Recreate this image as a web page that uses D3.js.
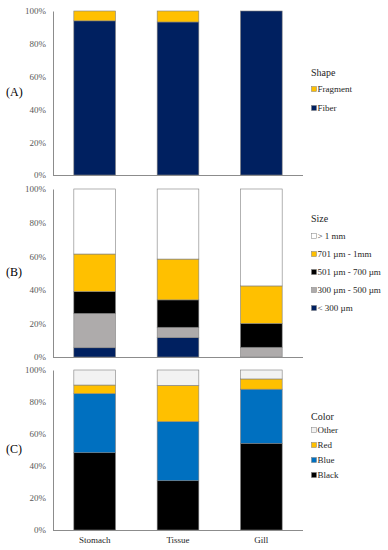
<!DOCTYPE html>
<html>
<head>
<meta charset="utf-8">
<script src="https://cdn.jsdelivr.net/npm/d3@7"></script>
<style>
  body { margin: 0; background: #fff; }
  text { font-family: "Liberation Serif", "Times New Roman", serif; }
</style>
</head>
<body>
<div id="my_dataviz"></div>
<script>
// data (percent of items)
var sites = ["Stomach", "Tissue", "Gill"];
var yTicks = [0, 20, 40, 60, 80, 100];

var shapeKeys = ["Fiber", "Fragment"];
var shapeColors = ["#002060", "#FFC000"];
var fiber = [94, 93.3, 100];
var fragment = [6, 6.7, 0];

var sizeKeys = ["< 300 µm", "300 µm - 500 µm", "501 µm - 700 µm", "701 µm - 1mm", "> 1 mm"];
var sizeColors = ["#002060", "#AEABAB", "#000000", "#FFC000", "#FFFFFF"];
var lt300 = [5.5, 11.5, 0];
var s300to500 = [20.5, 6.2, 5.8];
var s501to700 = [13, 16.3, 14.2];
var s701to1mm = [22.3, 24.3, 22.3];
var gt1mm = [38.7, 41.7, 57.7];

var colorKeys = ["Black", "Blue", "Red", "Other"];
var colorColors = ["#000000", "#0070C0", "#FFC000", "#F2F2F2"];
var black = [48.3, 30.8, 54.2];
var blue = [36.9, 36.9, 33.8];
var red = [5.4, 22.7, 6.4];
var other = [9.4, 9.6, 5.6];

var width = 388, height = 550;

var svg = d3.select("#my_dataviz")
  .append("svg")
    .attr("width", width)
    .attr("height", height);

var x = d3.scaleBand()
    .domain(sites)
    .range([53, 303])
    .paddingInner(0.5)
    .paddingOuter(0.25);

function buildRows(keys, series) {
  return sites.map(function(s, i) {
    var row = {site: s};
    keys.forEach(function(k, j) { row[k] = series[j][i]; });
    return row;
  });
}

function panel(opts) {
  var y = d3.scaleLinear().domain([0, 100]).range([opts.bottom, opts.top]);
  var g = svg.append("g");

  var stacked = d3.stack().keys(opts.keys)(buildRows(opts.keys, opts.series));

  g.selectAll("g.layer")
    .data(stacked)
    .enter()
    .append("g")
      .attr("class", "layer")
      .attr("fill", function(d, i) { return opts.colors[i]; })
    .selectAll("rect")
    .data(function(d) { return d.filter(function(v) { return v[1] - v[0] > 0; }); })
    .enter()
    .append("rect")
      .attr("x", function(d) { return x(d.data.site); })
      .attr("y", function(d) { return y(d[1]); })
      .attr("width", x.bandwidth())
      .attr("height", function(d) { return y(d[0]) - y(d[1]); })
      .attr("stroke", "#7f7f7f")
      .attr("stroke-width", 0.6);

  // y axis
  var yAxis = g.append("g")
    .attr("transform", "translate(53,0)")
    .call(d3.axisLeft(y).tickValues(yTicks).tickSize(0).tickPadding(7)
      .tickFormat(function(d) { return d + "%"; }));
  yAxis.select(".domain").attr("stroke", "#8c8c8c");
  yAxis.selectAll("text")
    .attr("font-family", "Liberation Serif")
    .attr("font-size", "9px")
    .attr("fill", "#595959");

  // x axis line
  var xAxis = g.append("g")
    .attr("transform", "translate(0," + opts.bottom + ")")
    .call(d3.axisBottom(x).tickSize(0).tickPadding(7)
      .tickFormat(opts.showLabels ? null : function() { return ""; }));
  xAxis.select(".domain").attr("stroke", "#8c8c8c").attr("d", "M53,0.5H303");
  xAxis.selectAll("text")
    .attr("font-family", "Liberation Serif")
    .attr("font-size", "9px")
    .attr("fill", "#262626");

  // panel label
  g.append("text")
    .attr("x", 6)
    .attr("y", (opts.top + opts.bottom) / 2 + 3)
    .attr("font-size", "12px")
    .attr("fill", "#000")
    .text(opts.label);

  // legend
  g.append("text")
    .attr("x", 311)
    .attr("y", opts.legendTop)
    .attr("font-size", "10px")
    .attr("fill", "#262626")
    .text(opts.title);

  var items = opts.keys.map(function(k, i) { return {key: k, color: opts.colors[i]}; }).reverse();
  var li = g.selectAll("g.legend")
    .data(items)
    .enter()
    .append("g")
      .attr("class", "legend")
      .attr("transform", function(d, i) {
        return "translate(311," + (opts.legendTop + opts.legendFirst + i * opts.legendStep) + ")";
      });
  li.append("rect")
    .attr("x", 0.5)
    .attr("y", -5.5)
    .attr("width", 5)
    .attr("height", 5)
    .attr("fill", function(d) { return d.color; })
    .attr("stroke", "#7f7f7f")
    .attr("stroke-width", 0.5);
  li.append("text")
    .attr("x", 6.5)
    .attr("y", 0)
    .attr("font-size", "9px")
    .attr("fill", "#262626")
    .text(function(d) { return d.key; });
}

panel({
  label: "(A)", title: "Shape", top: 11, bottom: 175,
  keys: shapeKeys, colors: shapeColors, series: [fiber, fragment],
  legendTop: 76, legendFirst: 16, legendStep: 19
});

panel({
  label: "(B)", title: "Size", top: 189, bottom: 357,
  keys: sizeKeys, colors: sizeColors,
  series: [lt300, s300to500, s501to700, s701to1mm, gt1mm],
  legendTop: 222, legendFirst: 17, legendStep: 18
});

panel({
  label: "(C)", title: "Color", top: 370, bottom: 530,
  keys: colorKeys, colors: colorColors, series: [black, blue, red, other],
  legendTop: 420, legendFirst: 13, legendStep: 15, showLabels: true
});
</script>
</body>
</html>
